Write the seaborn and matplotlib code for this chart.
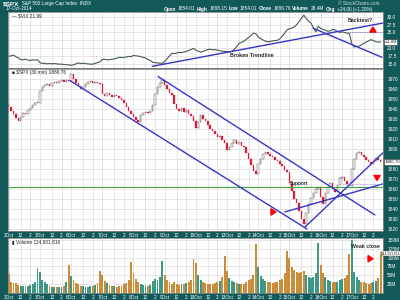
import matplotlib
matplotlib.use("Agg")
import matplotlib.pyplot as plt
import seaborn as sns
import pandas as pd

# ---------------- data ----------------
days = ["2Oct", "3Oct", "6Oct", "7Oct", "8Oct", "9Oct", "10Oct",
        "13Oct", "14Oct", "15Oct", "16Oct", "17Oct"]
bars_per_day = 13

first_open = 1945.0
spx_close = [
    1942, 1938, 1935, 1931, 1928, 1932, 1936, 1935, 1939, 1941, 1944, 1946, 1946,
    1958, 1962, 1964, 1965, 1963, 1966, 1967, 1966, 1968, 1969, 1967, 1969, 1968,
    1975, 1970, 1966, 1963, 1960, 1962, 1965, 1967, 1968, 1966, 1967, 1966, 1965,
    1955, 1953, 1956, 1954, 1952, 1954, 1953, 1951, 1949, 1946, 1942, 1938, 1935,
    1932, 1929, 1927, 1934, 1936, 1937, 1936, 1938, 1944, 1955, 1962, 1966, 1969,
    1964, 1960, 1956, 1954, 1945, 1940, 1938, 1941, 1937, 1939, 1935, 1933, 1928,
    1921, 1927, 1934, 1930, 1928, 1924, 1920, 1918, 1915, 1912, 1913, 1909, 1906,
    1899, 1902, 1906, 1909, 1905, 1907, 1903, 1902, 1896, 1890, 1884, 1878, 1875,
    1885, 1890, 1895, 1897, 1895, 1893, 1892, 1889, 1888, 1885, 1883, 1879, 1877,
    1866, 1858, 1850, 1846, 1838, 1830, 1825, 1836, 1845, 1851, 1856, 1860, 1862,
    1852, 1845, 1856, 1862, 1866, 1860, 1857, 1864, 1871, 1872, 1868, 1865, 1863,
    1880, 1890, 1896, 1897, 1894, 1892, 1889, 1887, 1885, 1888, 1891, 1889, 1886.76,
]

volume_m = [
    54, 30, 29, 27, 22, 20, 21, 19, 20, 22, 24, 30, 71,
    60, 38, 30, 24, 20, 18, 17, 16, 18, 17, 21, 30, 80,
    48, 38, 28, 24, 21, 19, 18, 17, 19, 20, 22, 28, 62,
    52, 35, 27, 22, 20, 19, 18, 20, 21, 24, 28, 36, 88,
    55, 40, 30, 24, 22, 20, 19, 22, 35, 40, 38, 45, 91,
    51, 36, 30, 26, 30, 25, 22, 24, 26, 28, 30, 38, 97,
    85, 50, 36, 30, 28, 26, 24, 25, 28, 30, 34, 45, 105,
    62, 42, 34, 30, 28, 25, 24, 26, 32, 36, 40, 52, 139,
    72, 48, 40, 35, 32, 30, 28, 30, 32, 36, 40, 55, 119,
    100, 72, 65, 58, 55, 60, 62, 50, 45, 42, 45, 55, 142,
    78, 55, 45, 38, 35, 32, 30, 32, 36, 40, 42, 50, 110,
    150, 60, 45, 38, 32, 30, 28, 26, 28, 30, 34, 42, 114.93,
]

vix = [
    17.3, 17.5, 17.7, 17.2, 16.8, 16.3, 16.2, 16.4, 16.1, 16.0, 16.2, 16.1, 16.2,
    15.3, 15.0, 15.1, 14.9, 15.0, 14.9, 15.0, 14.9, 14.8, 14.8, 14.7, 14.6, 14.6,
    14.4, 14.6, 14.9, 15.2, 15.0, 15.1, 15.0, 14.9, 14.8, 14.8, 15.0, 15.3, 15.5,
    16.3, 16.4, 16.2, 16.2, 16.4, 16.5, 16.7, 17.0, 16.9, 17.0, 17.1, 17.3, 17.2,
    17.6, 17.5, 17.4, 17.2, 17.0, 16.8, 16.3, 16.0, 15.4, 15.3, 15.2, 15.1, 15.1,
    15.6, 16.6, 17.4, 18.3, 18.2, 18.4, 18.6, 18.5, 18.7, 18.9, 19.2, 19.5, 19.9,
    19.3, 19.0, 18.7, 18.9, 19.2, 19.5, 19.6, 19.4, 19.5, 19.3, 19.1, 19.0, 18.9,
    18.8, 18.7, 18.9, 19.6, 20.4, 21.5, 21.8, 22.2, 22.8, 23.4, 24.0, 24.8, 24.6,
    23.6, 23.0, 22.6, 22.2, 22.0, 22.1, 22.3, 22.4, 22.5, 23.0, 23.8, 24.8, 25.8,
    26.2, 26.4, 26.8, 27.5, 28.5, 29.6, 30.6, 29.5, 28.6, 28.0, 26.5, 25.2, 27.0,
    26.3, 26.0, 25.7, 25.4, 25.5, 26.0, 25.8, 25.4, 25.0, 25.2, 25.0, 24.8, 24.6,
    21.4, 20.3, 20.5, 20.6, 21.0, 21.5, 21.9, 22.3, 22.7, 22.4, 22.0, 21.9, 21.99,
]

price_ticks = list(range(1820, 1971, 10))
vix_ticks = [15.0, 17.5, 20.0, 22.5, 25.0, 27.5, 30.0]
vol_ticks = [25, 50, 75, 100, 125, 150]

# hand-drawn annotation lines: (bar index, value) pairs
vix_trend_up = [(59.8, 14.1), (156.0, 28.05)]
vix_trend_down = [(126.8, 26.4), (155.6, 17.0)]
vix_backtest_level = [(141.4, 25.1), (156.0, 25.1)]
spx_channel_low = [(25.5, 1968.5), (124.3, 1819.5)]
spx_channel_high = [(62.2, 1972.6), (152.6, 1833.6)]
spx_rise_steep = [(123.5, 1821.5), (156.0, 1896.0)]
spx_rise_shallow = [(115.1, 1836.6), (156.0, 1864.8)]
spx_support_level = 1862.0
spx_dotted = [(139.3, 1864.5), (156.0, 1864.5)]

header_left = [("$SPX", True), ("  S&P 500 Large Cap Index  INDX", False)]
header_date = "17-Oct-2014"
header_right = [("Open", True), ("1854.01", False), ("High", True), ("1888.15", False),
                ("Low", True), ("1854.01", False), ("Close", True), ("1886.76", False),
                ("Volume", True), ("28.4M", False), ("Chg", True), ("+24.00 (+1.29%)", False)]

# ---------------- style ----------------
sns.set_style("white")
plt.rcParams['font.family'] = ['Liberation Sans', 'DejaVu Sans']
TEAL = '#125959'
GRID = '#dcdcdc'
BLUE = '#3535c8'
RED_C = '#d81e3c'
UPV = '#3d9985'
DNV = '#c98d3c'
FS = 3.4

n = len(spx_close)
idx = list(range(n))
opens = [first_open] + spx_close[:-1]
df = pd.DataFrame({"i": idx, "open": opens, "close": spx_close,
                   "vol": volume_m, "vix": vix})
df["up"] = df["close"] >= df["open"]

fig = plt.figure(figsize=(4, 3), dpi=100, facecolor=TEAL)
renderer = fig.canvas.get_renderer()


def px_axes(x0, y0, x1, y1):
    return fig.add_axes([x0 / 400, 1 - y1 / 300, (x1 - x0) / 400, (y1 - y0) / 300])


ax_v = px_axes(8, 12, 383, 68.5)
ax_p = px_axes(8, 68.5, 383, 231)
ax_q = px_axes(8, 238, 383, 293)

xlim = (-0.3, 156.0)
tick_pos, tick_lab = [], []
for d, name in enumerate(days):
    for off, lab in ((0, name), (5, "12"), (9, "2")):
        tick_pos.append(d * bars_per_day + off)
        tick_lab.append(lab)

for ax in (ax_v, ax_p, ax_q):
    ax.set_facecolor('white')
    ax.set_xlim(*xlim)
    ax.set_xticks(tick_pos)
    ax.grid(True, color=GRID, linewidth=0.5)
    ax.set_axisbelow(True)
    for s in ax.spines.values():
        s.set_color('#888888')
        s.set_linewidth(0.6)
    ax.yaxis.tick_right()
    ax.tick_params(axis='y', length=0, labelsize=FS, labelcolor='white', pad=3)
    ax.tick_params(axis='x', length=0, labelsize=FS, labelcolor='white', pad=1.5)

ax_v.set_xticklabels([])
ax_p.set_xticklabels(tick_lab)
ax_q.set_xticklabels(tick_lab)

box = dict(boxstyle='square,pad=0.12', fc='white', ec='#444444', lw=0.4)
arrow = dict(arrowstyle='simple,head_width=0.9,head_length=0.7,tail_width=0.45',
             color='red', mutation_scale=5)

# ---- VIX panel ----
sns.lineplot(data=df, x="i", y="vix", ax=ax_v, color='#45594f', linewidth=0.8)
ax_v.set_ylim(13.4, 31.6)
ax_v.set_yticks(vix_ticks)
ax_v.set_yticklabels(["" if t == 22.5 else f"{t:.1f}" for t in vix_ticks])
ax_v.set_xlabel("")
ax_v.set_ylabel("")
for seg in (vix_trend_up, vix_trend_down):
    ax_v.plot([seg[0][0], seg[1][0]], [seg[0][1], seg[1][1]], color=BLUE, lw=1.0)
ax_v.plot([vix_backtest_level[0][0], vix_backtest_level[1][0]],
          [vix_backtest_level[0][1], vix_backtest_level[1][1]],
          color='#7a4fc8', lw=0.6, ls=(0, (1, 1)))
ax_v.annotate('', xy=(151.8, 27.6), xytext=(151.8, 24.9), arrowprops=arrow)
ax_v.text(146.4, 28.9, "Backtest?", fontsize=3.8, fontweight='bold', ha='center', va='center')
ax_v.text(101.4, 17.7, "Broken Trendline", fontsize=3.8, fontweight='bold', ha='center', va='center')
ax_v.text(0.012, 0.93, "— $VIX 21.99", transform=ax_v.transAxes, fontsize=FS,
          va='center', ha='left', color='#222222')
ax_v.text(156.6, vix[-1], f"{vix[-1]:.2f}", fontsize=FS, va='center', ha='left',
          bbox=box, clip_on=False)

# ---- Price panel ----
up = df[df["up"]]
dn = df[~df["up"]]
ax_p.bar(up["i"], (up["close"] - up["open"]).clip(lower=0.5), bottom=up["open"],
         width=0.65, color='white', edgecolor='#555555', linewidth=0.35)
ax_p.bar(dn["i"], (dn["open"] - dn["close"]).clip(lower=0.5), bottom=dn["close"],
         width=0.65, color=RED_C, edgecolor=RED_C, linewidth=0.2)
ax_p.set_ylim(1817.5, 1980.6)
ax_p.set_yticks(price_ticks)
ax_p.set_yticklabels(["" if t == 1890 else str(t) for t in price_ticks])
ax_p.axhline(spx_support_level, color='#3fa63f', lw=0.8)
for seg in (spx_channel_low, spx_channel_high, spx_rise_steep, spx_rise_shallow):
    ax_p.plot([seg[0][0], seg[1][0]], [seg[0][1], seg[1][1]], color=BLUE, lw=1.0)
ax_p.plot([spx_dotted[0][0], spx_dotted[1][0]], [spx_dotted[0][1], spx_dotted[1][1]],
          color='#8a8ad8', lw=0.6, ls=(0, (1, 1)))
ax_p.annotate('', xy=(112.5, 1836.6), xytext=(108.3, 1836.6), arrowprops=arrow)
ax_p.annotate('', xy=(153.5, 1865.5), xytext=(153.5, 1871.5), arrowprops=arrow)
ax_p.text(117.3, 1865.6, "Support", fontsize=FS, fontweight='bold', ha='left', va='center')
ax_p.text(0.012, 0.975, "■ $SPX (30 min) 1886.76", transform=ax_p.transAxes, fontsize=FS,
          va='center', ha='left', color='#222222')
ax_p.text(156.6, spx_close[-1], f"{spx_close[-1]:.2f}", fontsize=FS - 0.2, va='center', ha='left',
          bbox=box, clip_on=False)

# ---- Volume panel ----
ax_q.bar(df["i"], df["vol"], width=0.8,
         color=[UPV if u else DNV for u in df["up"]], linewidth=0)
ax_q.set_ylim(0, 155)
ax_q.set_yticks(vol_ticks)
ax_q.set_yticklabels([f"{t}M" for t in vol_ticks])
ax_q.text(0.012, 0.93, "▮ Volume 114,931,816", transform=ax_q.transAxes, fontsize=FS,
          va='center', ha='left', color='#222222')
ax_q.text(148.5, 130, "Weak close", fontsize=3.8, fontweight='bold', ha='center', va='center')
ax_q.annotate('', xy=(153.0, 96.6), xytext=(148.6, 96.6), arrowprops=arrow)
ax_q.text(155.6, 112, "114,931,816", fontsize=2.4, va='center', ha='left',
          bbox=dict(boxstyle='square,pad=0.08', fc='white', ec='#444444', lw=0.3),
          clip_on=False)


# ---- header ----
def ftext(x, y, s, **kw):
    kw.setdefault('fontsize', FS)
    kw.setdefault('color', 'white')
    kw.setdefault('ha', 'left')
    return fig.text(x / 400, 1 - y / 300, s, va='center', **kw)


x = 3
for s, b in header_left:
    t = ftext(x, 3.5, s, fontweight='bold' if b else 'normal',
              fontsize=4.6 if b else FS)
    x += t.get_window_extent(renderer).width
ftext(6, 9, header_date)
ftext(380, 3.5, "© StockCharts.com", color='#cfdede', ha='right')

# right header laid out from the right edge
pieces = []
for s, b in header_right:
    t = ftext(0, 9, s, fontweight='bold' if b else 'normal')
    pieces.append(t)
widths = [p.get_window_extent(renderer).width for p in pieces]
span = 372 - 182
gap = max(1.5, (span - sum(widths)) / (len(widths) - 1))
total = sum(widths) + gap * (len(widths) - 1)
x = 372 - total
for p, w in zip(pieces, widths):
    p.set_x(x / 400)
    x += w + gap

fig.savefig("out.png", dpi=100, facecolor=TEAL)
